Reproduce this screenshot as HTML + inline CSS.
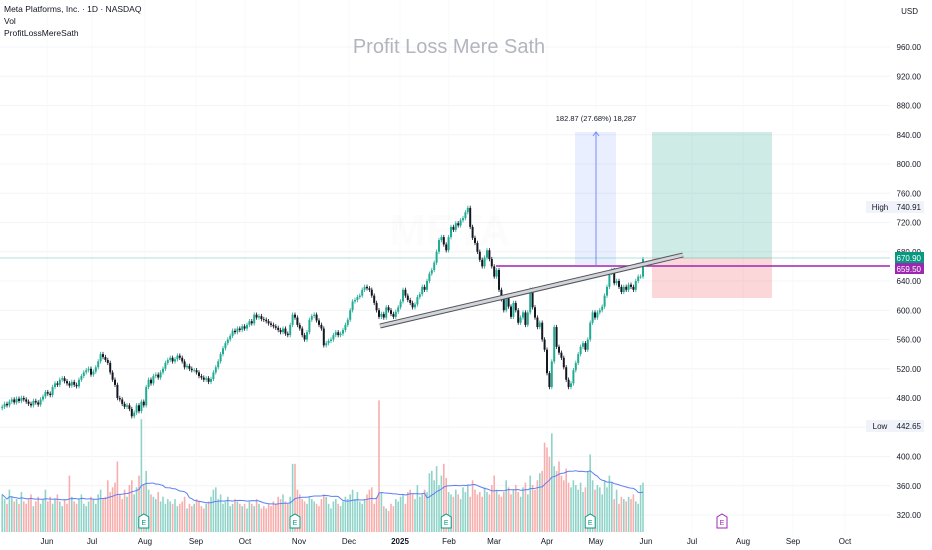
<!DOCTYPE html>
<html><head><meta charset="utf-8"><style>
body{margin:0;background:#fff;font-family:"Liberation Sans",sans-serif}
svg{display:block}
</style></head><body>
<svg id="chart" width="932" height="550" xmlns="http://www.w3.org/2000/svg" font-family="Liberation Sans, sans-serif">
<rect width="932" height="550" fill="#fff"/>
<g id="grid"></g>
<text x="450" y="245" font-size="44" font-weight="bold" fill="#000" opacity="0.008" text-anchor="middle">META</text>
<text x="449" y="53" font-size="20" fill="#b2b5be" text-anchor="middle">Profit Loss Mere Sath</text>
<g font-size="8.5" fill="#131722">
<text x="4" y="12">Meta Platforms, Inc. · 1D · NASDAQ</text>
<text x="4" y="24">Vol</text>
<text x="4" y="36">ProfitLossMereSath</text>
</g>
<text x="918" y="14" font-size="8" fill="#131722" text-anchor="end">USD</text>
<g id="drawings">
<rect x="575" y="132" width="41" height="133" fill="#2962ff" opacity="0.1"/>
<line x1="596" y1="265" x2="596" y2="133" stroke="#7b8ef5" stroke-width="1"/>
<path d="M593 136 L596 132 L599 136" stroke="#7b8ef5" fill="none"/>
<text x="596" y="121" font-size="7.5" fill="#131722" text-anchor="middle">182.87 (27.68%) 18,287</text>
<rect x="652" y="132" width="120" height="126" fill="#089981" opacity="0.2"/>
<rect x="652" y="258" width="120" height="40" fill="#f23645" opacity="0.2"/>
<line x1="0" y1="258" x2="890" y2="258" stroke="#089981" stroke-width="0.6" opacity="0.6"/>
</g>
<g id="volume"></g>
<path id="volma" fill="none" stroke="#5b7ff5" stroke-width="1"/>
<g id="candles"></g>
<line x1="496" y1="266" x2="890" y2="266" stroke="#9c27b0" stroke-width="1.5"/>
<g>
<line x1="380" y1="326" x2="683" y2="255" stroke="#555" stroke-width="5" stroke-linecap="butt"/>
<line x1="380" y1="326" x2="683" y2="255" stroke="#d1d4dc" stroke-width="3"/>
</g>
<g id="yaxis" font-size="8" fill="#131722"></g>
<g id="xaxis" font-size="8" fill="#131722"></g>
<g font-size="8">
<rect x="866" y="201" width="28" height="12" fill="#f0f3fa"/>
<rect x="894" y="201" width="30" height="12" fill="#f0f3fa"/>
<text x="880" y="210" text-anchor="middle" fill="#131722">High</text>
<text x="921" y="210" text-anchor="end" fill="#131722">740.91</text>
<rect x="866" y="420" width="28" height="12" fill="#f0f3fa"/>
<rect x="894" y="420" width="30" height="12" fill="#f0f3fa"/>
<text x="880" y="429" text-anchor="middle" fill="#131722">Low</text>
<text x="921" y="429" text-anchor="end" fill="#131722">442.65</text>
<rect x="895" y="252" width="29" height="11" fill="#089981"/>
<text x="921" y="261" text-anchor="end" fill="#fff">670.90</text>
<rect x="895" y="263" width="29" height="11" fill="#9c27b0"/>
<text x="921" y="272" text-anchor="end" fill="#fff">659.50</text>
</g>
<g id="events"></g>
</svg>
<script>
const closes=[468,472,470,475,478,474,479,476,480,478,
475,472,470,476,474,471,478,482,488,486,
484,495,500,498,505,507,503,500,497,502,
498,496,505,510,515,518,520,512,516,522,
530,540,536,532,528,515,505,498,480,478,
472,468,470,465,455,460,470,462,475,470,
495,505,500,510,512,508,515,520,528,532,
535,530,533,538,535,530,522,524,520,518,
518,515,510,508,505,507,502,506,515,522,
530,540,548,555,560,565,572,570,575,573,
578,575,580,585,582,594,590,592,588,587,
585,582,580,578,576,573,570,575,568,566,
580,594,590,580,575,566,560,570,587,592,
594,586,580,575,552,555,558,560,566,570,
566,568,573,580,587,600,612,614,618,620,
628,632,630,628,620,610,600,591,595,590,
604,600,595,591,598,604,612,628,620,614,
610,604,608,618,622,632,628,640,650,655,
665,680,696,700,690,682,700,714,710,719,
716,723,726,734,740,714,699,692,680,669,
660,672,682,670,660,646,655,628,615,600,
618,605,591,610,600,583,590,597,580,597,
628,604,590,577,583,560,546,514,495,530,
577,550,542,535,522,505,495,500,518,528,
540,550,555,546,560,583,597,590,597,600,
605,620,632,651,655,637,640,632,625,632,
628,635,632,628,640,646,646,670];
const volumes=[16,14,12,18,15,13,14,12,17,13,
12,14,16,11,13,15,12,14,18,13,
15,12,14,16,13,11,14,12,24,15,
13,12,14,16,12,11,13,15,14,12,
16,18,14,15,22,17,19,21,30,16,
14,18,15,20,22,16,19,24,48,20,
26,18,16,15,14,17,13,15,12,14,
13,12,14,11,12,13,15,10,12,11,
12,14,13,11,10,12,13,15,18,19,
14,16,12,13,15,11,12,14,13,12,
11,12,10,13,12,11,14,12,10,11,
10,12,11,13,12,15,14,16,13,12,
15,29,29,18,16,14,13,12,15,14,
13,12,11,14,16,15,12,10,13,14,
12,11,13,15,14,16,18,14,17,13,
12,14,16,18,19,12,15,56,17,11,
10,9,12,11,14,13,15,16,12,17,
18,16,14,20,15,16,18,17,25,26,
22,28,20,24,29,23,17,16,15,18,
16,14,19,17,20,15,22,18,16,17,
15,19,17,16,20,24,18,16,15,17,
22,19,16,18,20,17,15,19,21,16,
24,20,18,22,25,26,38,36,32,42,
28,26,30,24,22,27,21,19,22,20,
18,21,17,19,26,33,22,18,20,19,
16,22,19,24,21,14,18,12,15,14,
13,15,14,16,13,12,20,21];
const priceTicks=[960,920,880,840,800,760,720,680,640,600,560,520,480,440,400,360,320];
const monthLabels=["Jun","Jul","Aug","Sep","Oct","Nov","Dec","2025","Feb","Mar","Apr","May","Jun","Jul","Aug","Sep","Oct"];
const monthX=[47,92,145,196,245,299,349,400,449,494,547,596,646,692,743,793,845];
const earningsIdx=[59,122,185,245];

const NS="http://www.w3.org/2000/svg";
function mk(t,a,p){const e=document.createElementNS(NS,t);for(const k in a)e.setAttribute(k,a[k]);p.appendChild(e);return e;}
const yP=p=>47+(960-p)*0.73125;
const step=2.4, lastX=643;
const xI=i=>lastX-(closes.length-1-i)*step;
const vs=2.35;
const yV=v=>532-v*vs;

const grid=document.getElementById('grid'), yaxis=document.getElementById('yaxis');
priceTicks.forEach(p=>{
  const l=mk('line',{x1:0,x2:890,y1:yP(p),y2:yP(p),stroke:'#f3f4f7','stroke-width':1},grid);
  
  
  const t=mk('text',{x:921,y:yP(p)+3,'text-anchor':'end'},yaxis);
  t.textContent=p.toFixed(2);
  
  
});
const xaxis=document.getElementById('xaxis');
monthLabels.forEach((m,i)=>{
  const l=mk('line',{x1:monthX[i],x2:monthX[i],y1:0,y2:535,stroke:'#f7f8fa','stroke-width':1},grid);
  
  
  const t=mk('text',{x:monthX[i],y:544,'text-anchor':'middle','font-weight':m==='2025'?'bold':'normal'},xaxis);
  t.textContent=m;
  
  
});
const cg=document.getElementById('candles'), vg=document.getElementById('volume');
closes.forEach((c,i)=>{
  const o=i?closes[i-1]:c-2;
  const up=c>=o, x=xI(i);
  const hi=Math.max(o,c)+3, lo=Math.min(o,c)-3;
  const col=up?'#22ab94':'#131722';
  const w=mk('line',{x1:x,x2:x,y1:yP(hi),y2:yP(lo),stroke:col,'stroke-width':0.8},cg);
  
  
  const top=yP(Math.max(o,c)), h=Math.max(0.8,yP(Math.min(o,c))-top);
  const b=mk('rect',{x:x-1,y:top,width:2,height:h,fill:col},cg);
  
  
  const v=volumes[i];
  const vb=mk('rect',{x:x-0.8,y:yV(v),width:1.6,height:v*vs,fill:up?'#8fd3c9':'#f7aeac'},vg);
  
  
});
let d='';
volumes.forEach((v,i)=>{
  const s=Math.max(0,i-19), sl=volumes.slice(s,i+1);
  const ma=sl.reduce((a,b)=>a+b,0)/sl.length;
  d+=(i?'L':'M')+xI(i).toFixed(1)+' '+yV(ma).toFixed(1);
});
document.getElementById('volma').setAttribute('d',d);
const eg=document.getElementById('events');
function ev(x,col){
  const g=mk('g',{},eg);
  
  
  mk('path',{d:`M${x-5} 517 L${x} 514 L${x+5} 517 L${x+5} 528 L${x-5} 528Z`,fill:'#fff',stroke:col,'stroke-width':1},g);
  const t=mk('text',{x:x,y:525,'text-anchor':'middle','font-size':7,fill:col},g);
  t.textContent='E';
}
earningsIdx.forEach(i=>ev(xI(i),'#089981'));
ev(722,'#9c27b0');
</script>
</body></html>
